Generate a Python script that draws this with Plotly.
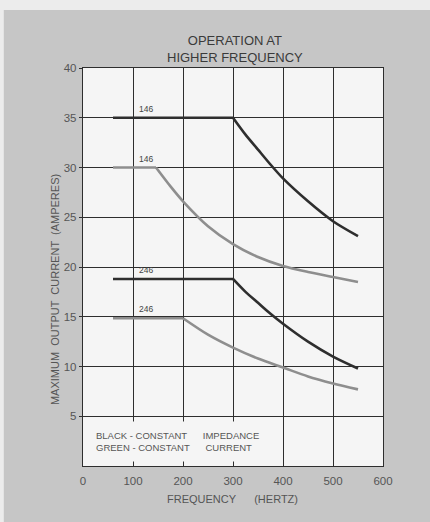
import plotly.graph_objects as go

# Frequency (Hz) and maximum output current (A) for each drive model.
# The first two points of every curve are its flat (rated) section.
black_146_hz = [60, 300, 325, 350, 375, 400, 450, 500, 550]
black_146_amps = [35.0, 35.0, 33.3, 31.8, 30.3, 28.9, 26.6, 24.6, 23.1]

green_146_hz = [60, 146, 175, 200, 250, 300, 350, 400, 450, 500, 550]
green_146_amps = [30.0, 30.0, 28.1, 26.6, 24.1, 22.3, 21.0, 20.1, 19.5, 19.0, 18.5]

black_246_hz = [60, 300, 325, 350, 375, 400, 450, 500, 550]
black_246_amps = [18.8, 18.8, 17.5, 16.4, 15.3, 14.3, 12.5, 11.0, 9.8]

green_246_hz = [60, 200, 250, 300, 350, 400, 450, 500, 550]
green_246_amps = [14.85, 14.85, 13.2, 11.9, 10.8, 9.9, 9.0, 8.3, 7.7]

curve_labels = ["146", "146", "246", "246"]
label_hz = [125, 125, 125, 125]
label_amps = [35.9, 30.9, 19.7, 15.8]

x_ticks = [0, 100, 200, 300, 400, 500, 600]
y_ticks = [5, 10, 15, 20, 25, 30, 35, 40]

BLACK = "#2e2e2e"
GREEN = "#8e8e8e"
FONT = "Liberation Sans, Arial, sans-serif"

fig = go.Figure()
series = [
    (black_146_hz, black_146_amps, BLACK),
    (green_146_hz, green_146_amps, GREEN),
    (black_246_hz, black_246_amps, BLACK),
    (green_246_hz, green_246_amps, GREEN),
]
for hz, amps, color in series:
    # flat section as a straight line
    fig.add_trace(go.Scatter(
        x=hz[:2], y=amps[:2], mode="lines",
        line=dict(color=color, width=2.6),
        showlegend=False, hoverinfo="skip",
    ))
    # roll-off section as a smooth curve from the knee
    fig.add_trace(go.Scatter(
        x=hz[1:], y=amps[1:], mode="lines",
        line=dict(color=color, width=2.6, shape="spline", smoothing=0.8),
        showlegend=False, hoverinfo="skip",
    ))

for text, hx, ay in zip(curve_labels, label_hz, label_amps):
    fig.add_annotation(x=hx, y=ay, text=text, showarrow=False,
                       font=dict(family=FONT, size=8.5, color="#444"))

# Key explaining the two line colours
fig.add_annotation(
    x=8, y=2.5, xanchor="left", yanchor="middle", align="left",
    text="BLACK - CONSTANT      IMPEDANCE<br>GREEN - CONSTANT      CURRENT",
    showarrow=False, bgcolor="#f5f5f5", borderpad=8,
    font=dict(family=FONT, size=9.5, color="#555"),
)

# Titles
fig.add_annotation(
    xref="paper", yref="paper", x=0.505, y=1.003, yanchor="bottom",
    text="OPERATION AT<br>HIGHER FREQUENCY", showarrow=False,
    font=dict(family=FONT, size=13, color="#3a3a3a"),
)
fig.add_annotation(
    xref="paper", yref="paper", x=-0.12, y=0.442, textangle=-90,
    text="MAXIMUM  OUTPUT  CURRENT  (AMPERES)", showarrow=False,
    font=dict(family=FONT, size=11, color="#555"),
)
fig.add_annotation(
    xref="paper", yref="paper", x=0.497, y=-0.083, yanchor="middle",
    text="FREQUENCY      (HERTZ)", showarrow=False,
    font=dict(family=FONT, size=11, color="#555"),
)

# Light border strips around the grey panel (top and left edges)
fig.add_shape(type="rect", xref="paper", yref="paper",
              x0=-0.3, x1=1.2, y0=1.146, y1=1.2, fillcolor="#ececec",
              line_width=0, layer="below")
fig.add_shape(type="rect", xref="paper", yref="paper",
              x0=-0.3, x1=-0.264, y0=-0.2, y1=1.2, fillcolor="#ececec",
              line_width=0, layer="below")

fig.update_xaxes(
    range=[0, 600], tickvals=x_ticks, ticks="", showgrid=True,
    gridcolor="#2e2e2e", gridwidth=1.4, showline=True, linecolor="#2e2e2e",
    linewidth=1.4, mirror=True, zeroline=False, ticklabelstandoff=4,
    tickfont=dict(family=FONT, size=11.5, color="#555"),
)
fig.update_yaxes(
    range=[0, 40], tickvals=y_ticks, ticks="outside", ticklen=3,
    tickcolor="#2e2e2e", showgrid=True, gridcolor="#2e2e2e", gridwidth=1.4,
    showline=True, linecolor="#2e2e2e", linewidth=1.4, mirror=True,
    zeroline=False, tickfont=dict(family=FONT, size=11.5, color="#555"),
)

fig.update_layout(
    width=430, height=522,
    margin=dict(l=83, r=47, t=68, b=56),
    paper_bgcolor="#c6c6c6", plot_bgcolor="#f5f5f5",
)

fig.write_html("out.html")
